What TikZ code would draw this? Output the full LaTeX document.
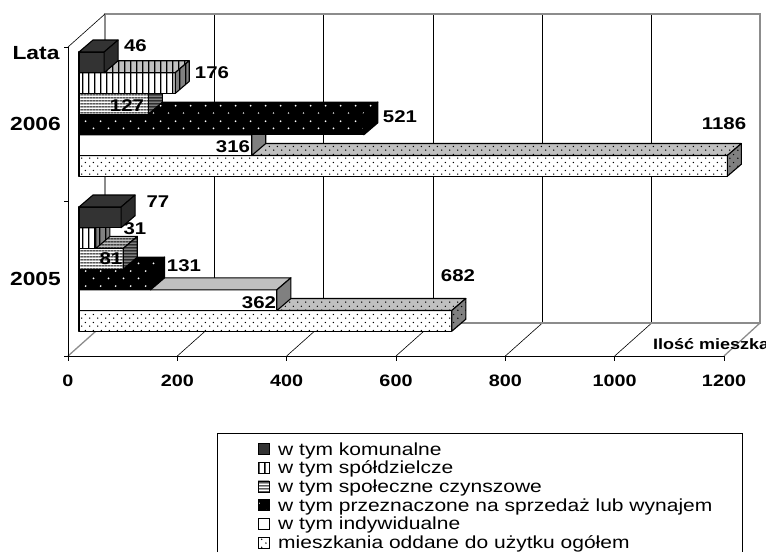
\documentclass[tikz,border=0pt]{standalone}
\usepackage{fontspec}
\setmainfont{Liberation Sans}[FakeStretch=1.2]
\usetikzlibrary{patterns.meta}

\definecolor{komcol}{HTML}{333333}
\definecolor{topgray}{HTML}{C0C0C0}
\definecolor{sidegray}{HTML}{808080}
\definecolor{framegray}{HTML}{8C8C8C}

\tikzdeclarepattern{name=vstripes, type=uncolored,
  bottom left={(0pt,0pt)}, top right={(5.7pt,5.7pt)}, tile size={(5.7pt,5.7pt)},
  code={\draw[line width=1.3pt] (2.85pt,-0.5pt) -- (2.85pt,6.2pt);}}
\tikzdeclarepattern{name=hstripes, type=uncolored,
  bottom left={(0pt,0pt)}, top right={(3pt,3pt)}, tile size={(3pt,3pt)},
  code={\draw[line width=1.3pt] (-0.5pt,1.5pt) -- (3.5pt,1.5pt);}}
\tikzdeclarepattern{name=finedots, type=uncolored,
  bottom left={(0pt,0pt)}, top right={(8pt,8pt)}, tile size={(8pt,8pt)},
  code={\fill (2pt,2pt) circle (0.8pt); \fill (6pt,6pt) circle (0.8pt);}}
\tikzdeclarepattern{name=widedots, type=uncolored,
  bottom left={(0pt,0pt)}, top right={(15pt,15pt)}, tile size={(15pt,15pt)},
  code={\fill (3.75pt,3.75pt) circle (1pt); \fill (11.25pt,11.25pt) circle (1pt);}}

\tikzset{
  barline/.style={draw=black, line width=1.1pt, line join=round},
  komF/.style={fill=komcol}, komT/.style={fill=komcol}, komS/.style={fill=komcol!85!black},
  spF/.style={preaction={fill=white}, pattern=vstripes},
  spT/.style={preaction={fill=topgray}, pattern=vstripes},
  spS/.style={preaction={fill=sidegray}, pattern=vstripes},
  czF/.style={preaction={fill=white}, pattern=hstripes},
  czT/.style={preaction={fill=topgray}, pattern=hstripes},
  czS/.style={preaction={fill=sidegray}, pattern=hstripes},
  sprzF/.style={preaction={fill=black}, pattern=widedots, pattern color=white},
  sprzT/.style={preaction={fill=black}, pattern=widedots, pattern color=white},
  sprzS/.style={fill=black},
  indF/.style={fill=white}, indT/.style={fill=topgray}, indS/.style={fill=sidegray},
  ogF/.style={preaction={fill=white}, pattern=finedots},
  ogT/.style={preaction={fill=topgray}, pattern=finedots},
  ogS/.style={preaction={fill=sidegray}, pattern=finedots},
  frame/.style={draw=framegray, line width=1.3pt},
  gridl/.style={draw=black, line width=0.6pt},
  vallbl/.style={font=\bfseries\fontsize{17}{18}\selectfont, inner sep=0pt},
  catlbl/.style={font=\bfseries\fontsize{19}{20}\selectfont, inner sep=0pt},
  ticklbl/.style={font=\bfseries\fontsize{16.5}{17}\selectfont, inner sep=0pt},
  legtxt/.style={font=\fontsize{17.5}{18}\selectfont, inner sep=0pt, anchor=base west}
}

% one 3D bar: top edge y, value, series
\newcommand{\drawbar}[3]{%
  \pgfmathsetmacro{\barlen}{#2*0.54667}
  \path[#3F, barline] (79,#1) rectangle ++(\barlen,20.7);
  \path[#3T, barline] (79,#1) -- ++(14,-12) -- ++(\barlen,0) -- ++(-14,12) -- cycle;
  \path[#3S, barline] ({79+\barlen},#1) -- ++(14,-12) -- ++(0,20.7) -- ++(-14,12) -- cycle;
}

\begin{document}
\begin{tikzpicture}[x=1pt,y=-1pt]
\useasboundingbox (0,0) rectangle (766,552);

% back wall and floor
\foreach \v in {200,400,...,1000} {
  \pgfmathsetmacro{\xf}{68+\v*0.54667}
  \draw[gridl] ({\xf+37},14) -- ({\xf+37},323);
  \draw[gridl] (\xf,356) -- ({\xf+37},323);
}
\draw[frame] (105,323) -- (105,14) -- (760,14) -- (760,323) -- cycle;
\draw[frame] (68,356) -- (105,323);
\draw[frame] (724,356) -- (760,323);
\draw[gridl] (68,47) -- (105,14);

% axes
\draw[black, line width=0.8pt] (68,47) -- (68,356) -- (724,356);
\foreach \y in {47,201.5,356}
  \draw[black, line width=0.8pt] (64,\y) -- (68,\y);
\foreach \v in {0,200,...,1200} {
  \pgfmathsetmacro{\xf}{68+\v*0.54667}
  \draw[black, line width=0.8pt] (\xf,356) -- (\xf,361);
  \node[ticklbl] (t\v) at (\xf,381) {\v};
}
\node[font=\bfseries\fontsize{15}{16}\selectfont, inner sep=0pt, anchor=base west] (unit) at (653,349.5) {Ilość mieszkań};

% bars 2006
\foreach \i/\val/\ser in {5/1186/og,4/316/ind,3/521/sprz,2/127/cz,1/176/sp,0/46/kom} {
  \pgfmathsetmacro{\ytop}{52+\i*20.7}
  \drawbar{\ytop}{\val}{\ser}
}
% bars 2005
\foreach \i/\val/\ser in {5/682/og,4/362/ind,3/131/sprz,2/81/cz,1/31/sp,0/77/kom} {
  \pgfmathsetmacro{\ytop}{207+\i*20.7}
  \drawbar{\ytop}{\val}{\ser}
}

% value labels
\node[vallbl] (v46) at (135.5,45.5) {46};
\node[vallbl] (v176) at (212,72.5) {176};
\node[vallbl] (v127) at (127,105.5) {127};
\node[vallbl] (v521) at (400,116.5) {521};
\node[vallbl] (v316) at (233,146.5) {316};
\node[vallbl] (v1186) at (724,124) {1186};
\node[vallbl] (v77) at (158,201.5) {77};
\node[vallbl] (v31) at (135,228.5) {31};
\node[vallbl] (v81) at (111,258.5) {81};
\node[vallbl] (v131) at (184,265.5) {131};
\node[vallbl] (v362) at (259,303) {362};
\node[vallbl] (v682) at (458,276) {682};

% categories
\node[catlbl] (lata) at (36,53.5) {Lata};
\node[catlbl] (y2006) at (35.5,123.5) {2006};
\node[catlbl] (y2005) at (35.5,278.5) {2005};

% legend
\draw[black, line width=0.9pt] (217,552) -- (217,433) -- (742,433) -- (742,552);
\foreach \ser/\txt [count=\i from 0] in {kom/w tym komunalne, sp/w tym spółdzielcze,
    cz/w tym społeczne czynszowe, sprz/w tym przeznaczone na sprzedaż lub wynajem,
    ind/w tym indywidualne, og/mieszkania oddane do użytku ogółem} {
  \path[\ser F, draw=black, line width=0.8pt] (258,{443.5+\i*18.7}) rectangle ++(11,11);
  \node[legtxt] (leg\i) at (278,{455+\i*18.7}) {\txt};
}
\end{tikzpicture}
\end{document}
